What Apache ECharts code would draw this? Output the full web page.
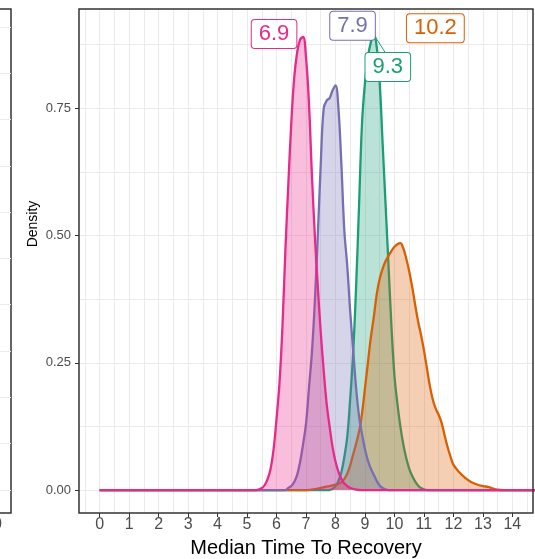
<!DOCTYPE html>
<html><head><meta charset="utf-8">
<script src="https://cdn.jsdelivr.net/npm/echarts@6/dist/echarts.min.js"></script>
<style>html,body{margin:0;padding:0;background:#fff}#c{width:535px;height:559px}</style>
</head><body><div id="c"></div>
<script>
// ---- data ----
const seriesNames = ['9.3', '10.2', '7.9', '6.9'];
const medians = [9.3, 10.2, 7.9, 6.9];
const peakDensity = [0.895, 0.485, 0.795, 0.89];

const greenX = [0, 7.8, 8.0, 8.1, 8.2, 8.3, 8.4, 8.5, 8.6, 8.7, 8.8, 8.9, 9.0, 9.1, 9.2, 9.3, 9.4, 9.5, 9.6, 9.7, 9.8, 9.9, 10.0, 10.1, 10.2, 10.3, 10.4, 10.5, 10.6, 10.7, 10.8, 10.9, 11.1, 15];
const greenY = [0, 0, 0.008, 0.018, 0.035, 0.065, 0.105, 0.18, 0.27, 0.4, 0.56, 0.72, 0.8, 0.85, 0.88, 0.895, 0.87, 0.8, 0.68, 0.56, 0.44, 0.32, 0.225, 0.17, 0.125, 0.09, 0.063, 0.042, 0.028, 0.017, 0.009, 0.004, 0, 0];

const orangeX = [0, 7.0, 7.4, 7.8, 8.0, 8.2, 8.4, 8.6, 8.8, 8.9, 9.0, 9.1, 9.2, 9.3, 9.4, 9.5, 9.6, 9.7, 9.8, 9.9, 10.0, 10.1, 10.2, 10.3, 10.4, 10.5, 10.6, 10.7, 10.8, 10.9, 11.0, 11.1, 11.2, 11.3, 11.4, 11.5, 11.6, 11.7, 11.8, 11.9, 12.0, 12.2, 12.4, 12.6, 12.8, 13.0, 13.2, 13.3, 13.5, 13.7, 15];
const orangeY = [0, 0, 0.003, 0.008, 0.011, 0.015, 0.032, 0.07, 0.115, 0.15, 0.2, 0.25, 0.3, 0.34, 0.385, 0.415, 0.435, 0.45, 0.46, 0.47, 0.478, 0.483, 0.485, 0.475, 0.455, 0.43, 0.4, 0.365, 0.332, 0.305, 0.275, 0.24, 0.205, 0.178, 0.16, 0.148, 0.132, 0.108, 0.085, 0.066, 0.05, 0.035, 0.024, 0.016, 0.011, 0.008, 0.006, 0.004, 0.001, 0, 0];

const purpleX = [0, 6.3, 6.4, 6.5, 6.6, 6.7, 6.8, 6.9, 7.0, 7.1, 7.2, 7.3, 7.4, 7.5, 7.6, 7.7, 7.8, 7.9, 8.0, 8.1, 8.2, 8.3, 8.4, 8.5, 8.6, 8.7, 8.8, 8.9, 9.0, 9.1, 9.2, 9.3, 9.4, 9.5, 9.6, 9.8, 15];
const purpleY = [0, 0, 0.004, 0.008, 0.016, 0.03, 0.055, 0.09, 0.13, 0.2, 0.27, 0.37, 0.5, 0.64, 0.75, 0.765, 0.77, 0.785, 0.795, 0.75, 0.64, 0.51, 0.44, 0.35, 0.275, 0.2, 0.145, 0.11, 0.08, 0.058, 0.042, 0.03, 0.018, 0.009, 0.004, 0, 0];

const pinkX = [0, 5.3, 5.5, 5.6, 5.7, 5.8, 5.9, 6.0, 6.1, 6.2, 6.3, 6.4, 6.5, 6.6, 6.7, 6.8, 6.9, 7.0, 7.1, 7.2, 7.3, 7.4, 7.5, 7.6, 7.7, 7.8, 7.9, 8.0, 8.1, 8.2, 8.3, 8.4, 8.5, 8.7, 8.9, 15];
const pinkY = [0, 0, 0.004, 0.01, 0.022, 0.042, 0.08, 0.14, 0.21, 0.32, 0.47, 0.6, 0.72, 0.81, 0.86, 0.885, 0.89, 0.85, 0.76, 0.62, 0.5, 0.4, 0.31, 0.235, 0.17, 0.125, 0.085, 0.056, 0.036, 0.022, 0.013, 0.008, 0.004, 0.001, 0, 0];

const xTicks = [0, 1, 2, 3, 4, 5, 6, 7, 8, 9, 10, 11, 12, 13, 14];
const yTicks = [0, 0.25, 0.5, 0.75];
const yTickLabels = ['0.00', '0.25', '0.50', '0.75'];

// ---- styles ----
const colors = ['#1B9E77', '#D95F02', '#7570B3', '#E7298A'];
const labelOffsets = [[14, 32.5], [35, -215], [20, -59.5], [-29, -3]];
const FONT = 'Liberation Sans, Arial, sans-serif';
const xs = [greenX, orangeX, purpleX, pinkX];
const ys = [greenY, orangeY, purpleY, pinkY];

const xMinor = xTicks.map(v => v - 0.5).concat([14.5]);
const yMinor = [0.125, 0.375, 0.625, 0.875];
const gridLine = {show: true, lineStyle: {color: '#EBEBEB', width: 1}};
const noLine = {show: false, onZero: false};

const series = seriesNames.map((name, i) => {
  const s = {
    name, type: 'line', xAxisIndex: 0, yAxisIndex: 0,
    data: xs[i].map((x, k) => [x, ys[i][k]]),
    smooth: 0.4, showSymbol: false, symbol: 'none',
    lineStyle: {color: colors[i], width: 2.3},
    areaStyle: {color: colors[i], opacity: 0.3},
    itemStyle: {color: colors[i]},
    z: 2 + i,
    markPoint: {
      symbol: 'circle', symbolSize: 1,
      itemStyle: {color: 'rgba(0,0,0,0)'},
      label: {
        show: true, position: 'inside', offset: labelOffsets[i],
        formatter: name, color: colors[i], fontSize: 22, fontFamily: FONT,
        backgroundColor: '#fff', borderColor: colors[i], borderWidth: 1,
        borderRadius: 3, padding: [3, 7, 3, 7], lineHeight: 22
      },
      data: [{coord: [medians[i], peakDensity[i]]}]
    }
  };
  if (i === 0) {
    s.markLine = {
      symbol: 'none', silent: true, label: {show: false},
      lineStyle: {color: colors[i], width: 1, type: 'solid'},
      data: [[{coord: [medians[i], peakDensity[i]]}, {coord: [medians[i] + 0.38, peakDensity[i] - 0.035]}]]
    };
  }
  return s;
});

const chart = echarts.init(document.getElementById('c'), null, {renderer: 'canvas'});
chart.setOption({
  animation: false,
  backgroundColor: '#fff',
  grid: [
    {left: 79, width: 454, top: 9, height: 504, outerBoundsMode: 'none', containLabel: false, show: true, borderColor: '#333', borderWidth: 1.5, backgroundColor: 'transparent', z: 10},
    {left: -100, width: 111, top: 9, height: 504, outerBoundsMode: 'none', containLabel: false, show: true, borderColor: '#333', borderWidth: 1.5, backgroundColor: 'transparent'}
  ],
  xAxis: [
    {type: 'value', gridIndex: 0, min: -0.7, max: 14.7,
     axisLine: noLine,
     axisTick: {show: true, length: 4, lineStyle: {color: '#333', width: 1}, customValues: xTicks},
     axisLabel: {customValues: xTicks, color: '#4D4D4D', fontSize: 16, fontFamily: FONT, margin: 4},
     splitLine: gridLine,
     name: 'Median Time To Recovery', nameLocation: 'middle', nameGap: 25,
     nameTextStyle: {color: '#000', fontSize: 20, fontFamily: FONT}},
    {type: 'value', gridIndex: 0, min: -0.7, max: 14.7,
     axisLine: noLine, axisLabel: {show: false},
     axisTick: {show: false, customValues: xMinor},
     splitLine: gridLine},
    {type: 'value', gridIndex: 1, min: 0, max: 10, show: false}
  ],
  yAxis: [
    {type: 'value', gridIndex: 0, min: -0.045, max: 0.945,
     axisLine: noLine,
     axisTick: {show: true, length: 4, lineStyle: {color: '#333', width: 1}, customValues: yTicks},
     axisLabel: {customValues: yTicks, formatter: v => yTickLabels[yTicks.indexOf(v)] ?? v.toFixed(2), color: '#4D4D4D', fontSize: 13, fontFamily: FONT, margin: 8},
     splitLine: gridLine},
    {type: 'value', gridIndex: 0, min: -0.045, max: 0.945,
     axisLine: noLine, axisLabel: {show: false},
     axisTick: {show: false, customValues: yMinor},
     splitLine: gridLine},
    {type: 'value', gridIndex: 1, min: -0.5, max: 10.39,
     axisLine: noLine, axisLabel: {show: false},
     axisTick: {show: false, customValues: [0, 1, 2, 3, 4, 5, 6, 7, 8, 9, 10]},
     splitLine: gridLine}
  ],
  graphic: [
    {type: 'text', x: 33, y: 224, rotation: Math.PI / 2,
     style: {text: 'Density', fill: '#000', font: '14px ' + FONT, align: 'center', verticalAlign: 'middle'}},
    {type: 'text', x: -7, y: 517,
     style: {text: '0', fill: '#4D4D4D', font: '16px ' + FONT, align: 'left', verticalAlign: 'top'}}
  ],
  series
});
</script>
</body></html>
